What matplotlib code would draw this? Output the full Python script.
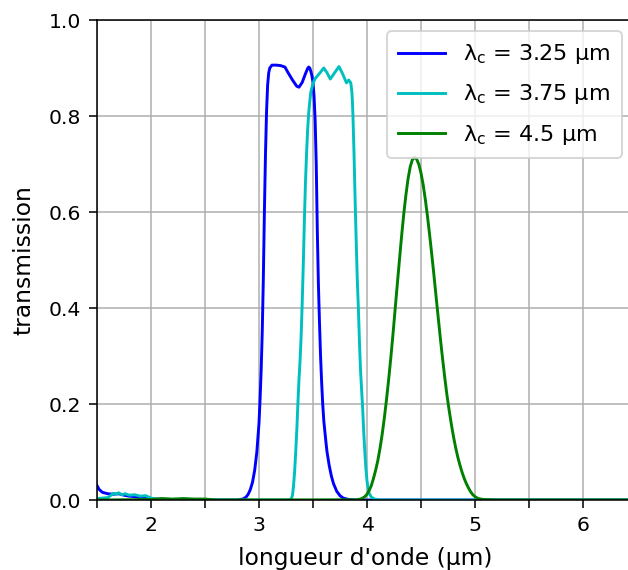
import matplotlib
matplotlib.use("Agg")
import matplotlib.pyplot as plt
from matplotlib.ticker import MultipleLocator, FuncFormatter

# ================= DATA =================
# filter centred at 3.25 um
x_325 = [1.50, 1.52, 1.55, 1.60, 1.65, 1.70, 1.75, 1.80, 1.85, 1.90, 1.95, 2.00, 2.20, 2.50,
         2.80, 2.85, 2.88, 2.90, 2.92, 2.94, 2.96, 2.98, 3.00, 3.01, 3.02, 3.03, 3.04, 3.05,
         3.06, 3.07, 3.08, 3.09, 3.10, 3.12, 3.16, 3.20, 3.24, 3.27, 3.31, 3.35, 3.37, 3.40,
         3.43, 3.45, 3.46, 3.47, 3.48, 3.49, 3.50, 3.51, 3.52, 3.53, 3.54, 3.55, 3.56, 3.57,
         3.58, 3.59, 3.60, 3.62, 3.63, 3.65, 3.67, 3.69, 3.72, 3.75, 3.78, 3.83, 3.90, 6.50]
t_325 = [0.030, 0.022, 0.016, 0.013, 0.012, 0.013, 0.010, 0.008, 0.007, 0.005, 0.004, 0.002, 0.001, 0.0,
         0.0, 0.002, 0.006, 0.012, 0.022, 0.037, 0.062, 0.100, 0.160, 0.210, 0.270, 0.350, 0.460, 0.600,
         0.720, 0.810, 0.865, 0.890, 0.900, 0.906, 0.906, 0.905, 0.902, 0.890, 0.875, 0.862, 0.860, 0.870,
         0.888, 0.899, 0.902, 0.900, 0.893, 0.884, 0.870, 0.840, 0.790, 0.700, 0.560, 0.450, 0.370, 0.300,
         0.245, 0.200, 0.165, 0.120, 0.100, 0.072, 0.050, 0.034, 0.018, 0.009, 0.004, 0.001, 0.0, 0.0]

# filter centred at 3.75 um
x_375 = [1.50, 1.60, 1.63, 1.65, 1.68, 1.70, 1.73, 1.76, 1.80, 1.85, 1.90, 1.95, 2.00, 2.05, 2.20,
         3.29, 3.30, 3.31, 3.32, 3.33, 3.34, 3.35, 3.36, 3.37, 3.38, 3.39, 3.40, 3.41, 3.42, 3.43,
         3.44, 3.45, 3.46, 3.47, 3.48, 3.50, 3.52, 3.565, 3.60, 3.63, 3.66, 3.70, 3.74, 3.77, 3.81,
         3.83, 3.85, 3.86, 3.865, 3.87, 3.88, 3.89, 3.90, 3.91, 3.92, 3.93, 3.94, 3.95, 3.96, 3.97,
         3.98, 3.99, 4.00, 4.01, 4.02, 4.04, 4.07, 4.12, 6.50]
t_375 = [0.003, 0.005, 0.010, 0.014, 0.012, 0.015, 0.011, 0.013, 0.010, 0.011, 0.008, 0.009, 0.004, 0.002, 0.0,
         0.0, 0.003, 0.010, 0.030, 0.060, 0.100, 0.145, 0.200, 0.250, 0.290, 0.340, 0.410, 0.490, 0.580, 0.660,
         0.720, 0.770, 0.806, 0.830, 0.850, 0.868, 0.878, 0.890, 0.900, 0.890, 0.877, 0.890, 0.903, 0.890, 0.869,
         0.875, 0.869, 0.850, 0.830, 0.800, 0.720, 0.625, 0.540, 0.460, 0.400, 0.330, 0.270, 0.230, 0.190, 0.140,
         0.100, 0.065, 0.040, 0.025, 0.014, 0.006, 0.002, 0.0, 0.0]

# filter centred at 4.5 um
x_450 = [1.50, 2.00, 2.10, 2.20, 2.30, 2.40, 2.50, 2.60, 3.90, 3.94, 3.96, 3.98, 4.00, 4.02, 4.04,
         4.06, 4.08, 4.10, 4.12, 4.14, 4.16, 4.18, 4.20, 4.22, 4.24, 4.26, 4.28, 4.30, 4.32, 4.34,
         4.36, 4.38, 4.40, 4.42, 4.44, 4.46, 4.48, 4.50, 4.52, 4.54, 4.56, 4.58, 4.60, 4.62, 4.64,
         4.66, 4.68, 4.70, 4.72, 4.74, 4.76, 4.78, 4.80, 4.82, 4.84, 4.86, 4.88, 4.90, 4.92, 4.94,
         4.96, 4.98, 5.00, 5.03, 5.08, 5.20, 6.50]
t_450 = [0.0, 0.001, 0.003, 0.002, 0.003, 0.002, 0.002, 0.0, 0.0005, 0.002, 0.004, 0.007, 0.012, 0.020, 0.030,
         0.045, 0.062, 0.082, 0.107, 0.136, 0.170, 0.208, 0.250, 0.295, 0.344, 0.396, 0.448, 0.499, 0.549, 0.595,
         0.635, 0.669, 0.694, 0.709, 0.714, 0.710, 0.699, 0.681, 0.657, 0.626, 0.591, 0.552, 0.511, 0.468, 0.423,
         0.379, 0.335, 0.294, 0.255, 0.219, 0.188, 0.159, 0.133, 0.110, 0.090, 0.073, 0.058, 0.045, 0.034, 0.025,
         0.017, 0.011, 0.007, 0.003, 0.001, 0.0, 0.0]

labels = [r"$\mathrm{\lambda_c}$ = 3.25 µm",
          r"$\mathrm{\lambda_c}$ = 3.75 µm",
          r"$\mathrm{\lambda_c}$ = 4.5 µm"]
# ========================================

DPI = 140
fig = plt.figure(figsize=(628 / DPI, 570 / DPI), dpi=DPI)
ax = fig.add_axes([97 / 628, 70 / 570, (633 - 97) / 628, 480 / 570])

ax.plot(x_325, t_325, color="b", label=labels[0])
ax.plot(x_375, t_375, color="c", label=labels[1])
ax.plot(x_450, t_450, color="g", label=labels[2])

ax.set_xlim(1.5, 1.5 + (633 - 97) / 108)
ax.set_ylim(0, 1)
ax.xaxis.set_major_locator(MultipleLocator(0.5))
ax.xaxis.set_major_formatter(FuncFormatter(lambda v, p: f"{v:.0f}" if abs(v - round(v)) < 1e-6 else ""))
ax.tick_params(length=4.2, labelsize=10.5, pad=4)
ax.grid(True)
ax.set_xlabel("longueur d'onde (µm)", fontsize=12, labelpad=6)
ax.set_ylabel("transmission", fontsize=12, labelpad=7)
ax.legend(loc="upper right", fontsize=11.5, labelspacing=0.72, handlelength=2.1, borderpad=0.5)

fig.savefig("out.png", dpi=DPI)
